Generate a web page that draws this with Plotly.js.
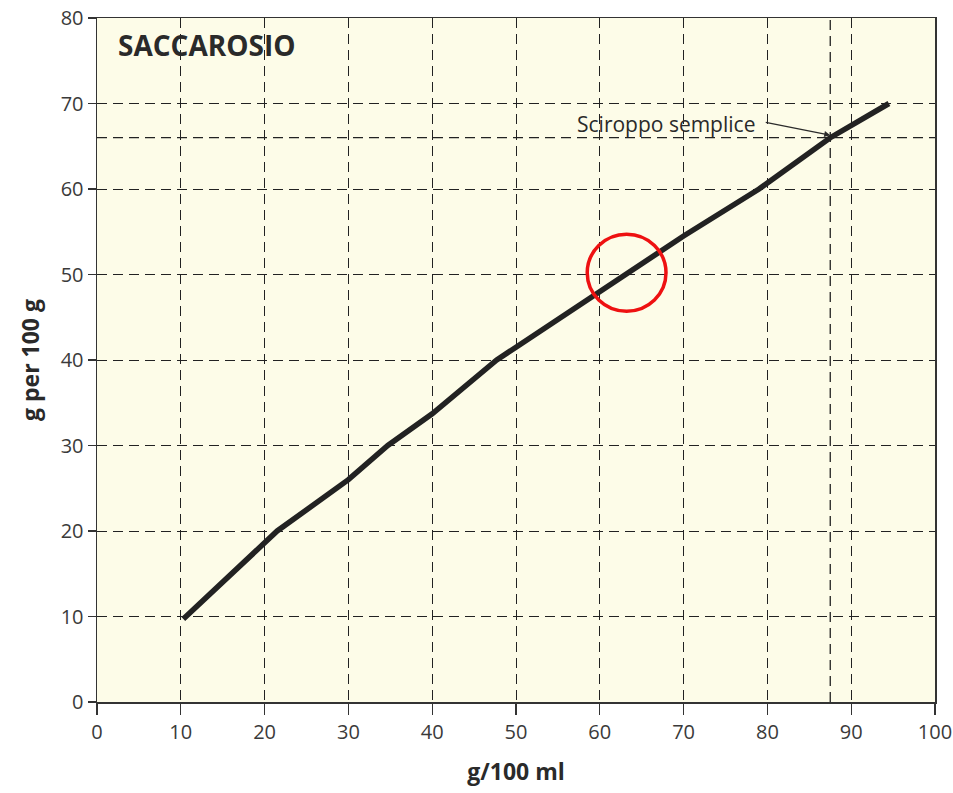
<!DOCTYPE html>
<html>
<head>
<meta charset="utf-8">
<script src="https://cdn.plot.ly/plotly-3.0.1.min.js"></script>
<style>html,body{margin:0;padding:0;background:#fff;}#chart{width:953px;height:793px;}</style>
</head>
<body>
<div id="chart"></div>
<script>
// Data
const xConc = [10.3, 21.5, 30, 34.7, 40, 47.7, 50, 63, 70, 79, 87.5, 94.5];   // g/100 ml
const yMass = [9.7, 20, 26, 30, 33.7, 40, 41.5, 50, 54.5, 60, 66, 70];        // g per 100 g
const xTicks = [0, 10, 20, 30, 40, 50, 60, 70, 80, 90, 100];
const yTicks = [0, 10, 20, 30, 40, 50, 60, 70, 80];
const syrupX = 87.5;
const syrupY = 66;
const markX = 63.2;
const markY = 50.2;
const chartTitle = "SACCAROSIO";
const syrupLabel = "Sciroppo semplice";

const tickFont = {family: "Open Sans, sans-serif", size: 20, color: "#3a3a3a"};
const titleFont = {family: "Open Sans, sans-serif", size: 23, color: "#2a2a2a"};

const trace = {
  x: xConc, y: yMass, type: "scatter", mode: "lines",
  line: {color: "#222", width: 5.5},
  hoverinfo: "skip", showlegend: false
};

const layout = {
  width: 953, height: 793,
  margin: {l: 97, r: 18, t: 18, b: 91},
  paper_bgcolor: "#ffffff",
  plot_bgcolor: "#fdfce8",
  xaxis: {
    range: [0, 100], tickvals: xTicks, ticktext: xTicks.map(String),
    showgrid: true, gridcolor: "#222", griddash: "10px,6px", gridwidth: 1,
    showline: true, linecolor: "#333", linewidth: 1.5, mirror: true,
    ticks: "outside", ticklen: 11, tickcolor: "#333", tickwidth: 1.2,
    tickfont: tickFont, zeroline: false,
    title: {text: "<b>g/100 ml</b>", font: titleFont, standoff: 20}
  },
  yaxis: {
    range: [0, 80], tickvals: yTicks, ticktext: yTicks.map(String),
    showgrid: true, gridcolor: "#222", griddash: "10px,6px", gridwidth: 1,
    showline: true, linecolor: "#333", linewidth: 1.5, mirror: true,
    ticks: "outside", ticklen: 8, tickcolor: "#333", tickwidth: 1.2,
    tickfont: tickFont, zeroline: false,
    title: {text: "<b>g per 100 g</b>", font: titleFont, standoff: 14}
  },
  shapes: [
    {type: "line", xref: "x", yref: "y", x0: syrupX, x1: syrupX, y0: 0, y1: 80,
     line: {color: "#222", width: 1.3, dash: "10px,6px"}},
    {type: "line", xref: "x", yref: "y", x0: 0, x1: 100, y0: syrupY, y1: syrupY,
     line: {color: "#222", width: 1.3, dash: "10px,6px"}},
    {type: "circle", xref: "x", yref: "y", x0: markX - 4.7, x1: markX + 4.7,
     y0: markY - 4.5, y1: markY + 4.5, line: {color: "#ee1111", width: 3.5}}
  ],
  annotations: [
    {x: 2.3, y: 76.9, xref: "x", yref: "y", xanchor: "left", yanchor: "middle",
     text: "<b>" + chartTitle + "</b>", showarrow: false,
     font: {family: "Open Sans, sans-serif", size: 28, color: "#2a2a2a"}},
    {x: 78.8, y: 67.6, xref: "x", yref: "y", xanchor: "right", yanchor: "middle",
     text: syrupLabel, showarrow: false,
     font: {family: "Open Sans, sans-serif", size: 21, color: "#2a2a2a"}},
    {x: syrupX, y: syrupY + 0.3, xref: "x", yref: "y", text: "", showarrow: true,
     ax: -66, ay: -13, arrowhead: 2, arrowsize: 1, arrowwidth: 1.2, arrowcolor: "#2a2a2a"}
  ]
};

Plotly.newPlot("chart", [trace], layout, {displayModeBar: false, staticPlot: true});
</script>
</body>
</html>
